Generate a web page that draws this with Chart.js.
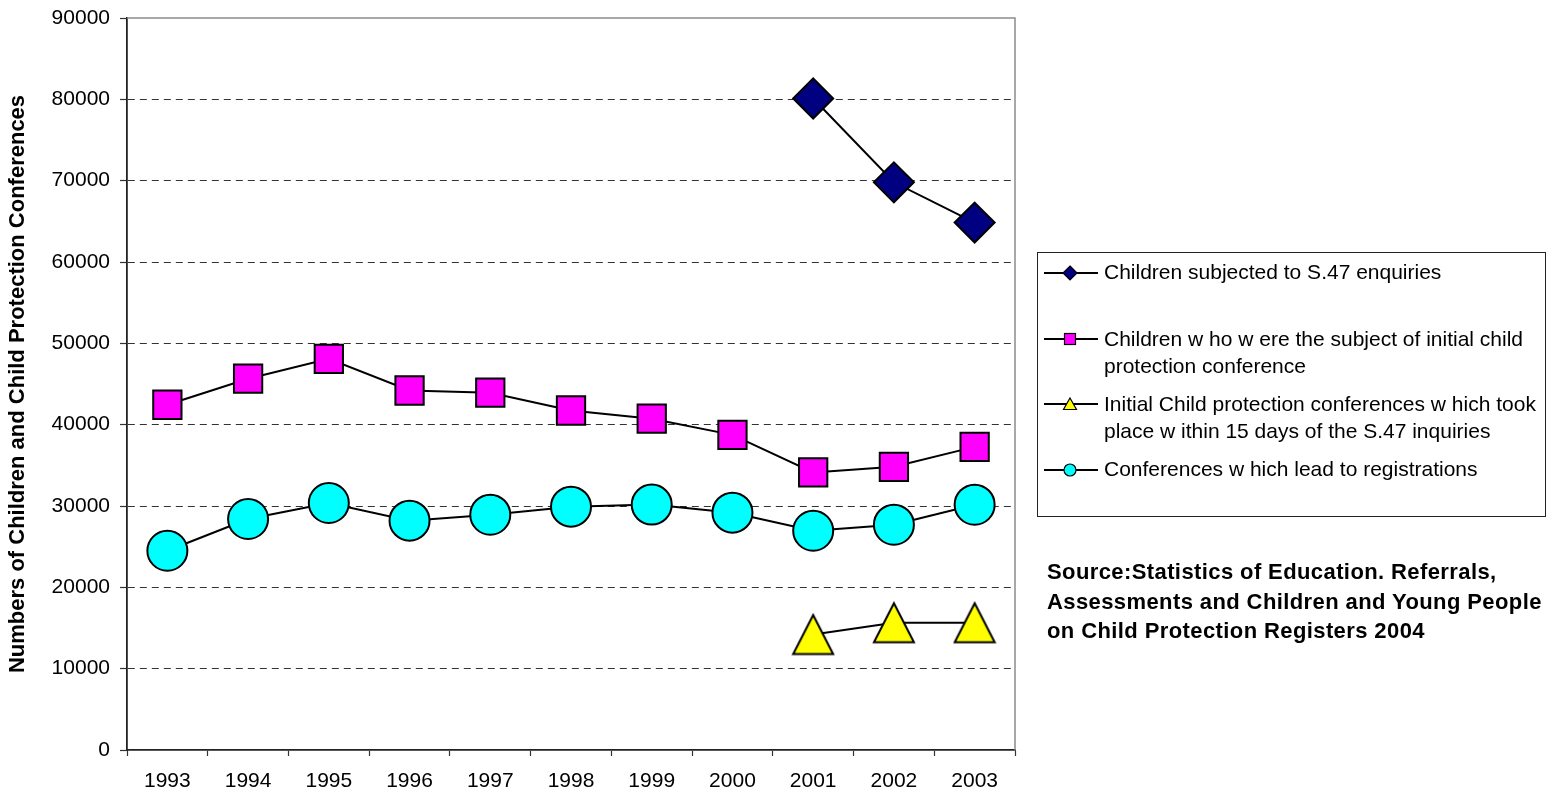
<!DOCTYPE html>
<html>
<head>
<meta charset="utf-8">
<script src="https://cdn.jsdelivr.net/npm/chart.js@4.4.1/dist/chart.umd.min.js"></script>
<style>
  html, body { margin: 0; padding: 0; background: #fff; }
  body { width: 1560px; height: 796px; position: relative; overflow: hidden; font-family: "Liberation Sans", Arial, sans-serif; }
  #wrap { position: absolute; left: 0; top: 0; width: 1560px; height: 796px; }
  #legend { position: absolute; left: 1037px; top: 252px; width: 509px; height: 265px; border: 1px solid #222; box-sizing: border-box; }
  .lt { position: absolute; left: 1104px; font-size: 21px; line-height: 27.5px; color: #000; white-space: nowrap; }
  .sym { position: absolute; left: 1044px; width: 56px; height: 20px; }
  #source { position: absolute; left: 1047px; top: 557px; font-size: 22px; font-weight: bold; line-height: 29.5px; letter-spacing: 0.4px; color: #000; white-space: nowrap; }
</style>
</head>
<body>
<div id="wrap"><canvas id="c" width="1560" height="796"></canvas></div>
<div id="legend"></div>
<svg class="sym" style="top:263px" viewBox="0 0 56 20"><line x1="0" y1="10" x2="54" y2="10" stroke="#000" stroke-width="1.8"/><polygon points="26,3 33,10 26,17 19,10" fill="#000080" stroke="#000" stroke-width="1.2"/></svg>
<div class="lt" style="top:258px">Children subjected to S.47 enquiries</div>
<svg class="sym" style="top:329px" viewBox="0 0 56 20"><line x1="0" y1="10" x2="54" y2="10" stroke="#000" stroke-width="1.8"/><rect x="20.5" y="4.5" width="11" height="11" fill="#FF00FF" stroke="#000" stroke-width="1.2"/></svg>
<div class="lt" style="top:324.5px">Children w ho w ere the subject of initial child<br>protection conference</div>
<svg class="sym" style="top:394px" viewBox="0 0 56 20"><line x1="0" y1="10" x2="54" y2="10" stroke="#000" stroke-width="1.8"/><polygon points="26,4 32.5,15.5 19.5,15.5" fill="#FFFF00" stroke="#000" stroke-width="1.2"/></svg>
<div class="lt" style="top:389.5px">Initial Child protection conferences w hich took<br>place w ithin 15 days of the S.47 inquiries</div>
<svg class="sym" style="top:460px" viewBox="0 0 56 20"><line x1="0" y1="10" x2="54" y2="10" stroke="#000" stroke-width="1.8"/><circle cx="26" cy="10" r="6" fill="#00FFFF" stroke="#000" stroke-width="1.2"/></svg>
<div class="lt" style="top:455px">Conferences w hich lead to registrations</div>
<div id="source">Source:Statistics of Education. Referrals,<br>Assessments and Children and Young People<br>on Child Protection Registers 2004</div>

<script>
const years = ['1993','1994','1995','1996','1997','1998','1999','2000','2001','2002','2003'];
const s47Enquiries = [null, null, null, null, null, null, null, null, 80100, 69800, 64850];
const initialConferenceChildren = [42450, 45650, 48100, 44200, 43930, 41740, 40730, 38750, 34130, 34820, 37270];
const within15Days = [null, null, null, null, null, null, null, null, 14200, 15650, 15650];
const registrations = [24500, 28400, 30370, 28200, 28930, 29920, 30170, 29180, 26960, 27700, 30160];
const yTicks = [0, 10000, 20000, 30000, 40000, 50000, 60000, 70000, 80000, 90000];
const seriesNames = [
  'Children subjected to S.47 enquiries',
  'Children who were the subject of initial child protection conference',
  'Initial Child protection conferences which took place within 15 days of the S.47 inquiries',
  'Conferences which lead to registrations'
];

// custom triangle marker (bounding-box centred like the reference)
const tri = document.createElement('canvas');
tri.width = 44; tri.height = 44;
(function () {
  const g = tri.getContext('2d');
  g.beginPath();
  g.moveTo(22, 2.5);
  g.lineTo(42, 41.5);
  g.lineTo(2, 41.5);
  g.closePath();
  g.fillStyle = '#FFFF00';
  g.fill();
  g.lineWidth = 2;
  g.strokeStyle = '#000';
  g.lineJoin = 'miter';
  g.stroke();
})();

const FONT = '"Liberation Sans", Arial, sans-serif';

const plotBorder = {
  id: 'plotBorder',
  beforeDatasetsDraw(chart) {
    const a = chart.chartArea, ctx = chart.ctx;
    ctx.save();
    ctx.strokeStyle = '#8c8c8c';
    ctx.lineWidth = 1.5;
    ctx.beginPath();
    ctx.moveTo(a.left, a.top);
    ctx.lineTo(a.right, a.top);
    ctx.lineTo(a.right, a.bottom);
    ctx.stroke();
    ctx.restore();
  }
};

const common = { borderColor: '#000', borderWidth: 2, pointBorderColor: '#000', pointBorderWidth: 2, spanGaps: false, tension: 0 };

new Chart(document.getElementById('c'), {
  type: 'line',
  data: {
    labels: years,
    datasets: [
      Object.assign({ label: seriesNames[0], data: s47Enquiries, pointStyle: 'rectRot', pointRadius: 20, pointBackgroundColor: '#000080' }, common),
      Object.assign({ label: seriesNames[1], data: initialConferenceChildren, pointStyle: 'rect', pointRadius: 20, pointBackgroundColor: '#FF00FF' }, common),
      Object.assign({ label: seriesNames[2], data: within15Days, pointStyle: tri, pointRadius: 22, pointBackgroundColor: '#FFFF00' }, common),
      Object.assign({ label: seriesNames[3], data: registrations, pointStyle: 'circle', pointRadius: 20, pointBackgroundColor: '#00FFFF' }, common)
    ]
  },
  options: {
    responsive: false,
    devicePixelRatio: 1,
    animation: false,
    events: [],
    layout: { autoPadding: false, padding: { left: 0, top: 18, right: 545, bottom: 0 } },
    plugins: { legend: { display: false }, tooltip: { enabled: false }, title: { display: false } },
    scales: {
      x: {
        type: 'category',
        offset: true,
        grid: { display: true, offset: true, drawOnChartArea: false, drawTicks: true, tickLength: 6, tickColor: '#333', tickWidth: 1.2 },
        border: { display: true, color: '#222', width: 1.8 },
        ticks: { color: '#000', font: { family: FONT, size: 21 }, padding: 13, maxRotation: 0, autoSkip: false },
        afterFit(scale) { scale.height = 46; }
      },
      y: {
        type: 'linear',
        min: 0,
        max: 90000,
        afterBuildTicks(scale) { scale.ticks = yTicks.map(v => ({ value: v })); },
        grid: {
          drawOnChartArea: true,
          drawTicks: true,
          tickLength: 7,
          tickColor: '#333',
          tickWidth: 1.2,
          lineWidth: 1,
          color: (ctx) => (ctx.tick && (ctx.tick.value === 0 || ctx.tick.value === 90000)) ? 'rgba(0,0,0,0)' : '#333'
        },
        border: { display: true, color: '#222', width: 1.8, dash: [7, 5] },
        ticks: { color: '#000', font: { family: FONT, size: 21 }, padding: 10, callback: (v) => String(v) },
        title: { display: true, text: 'Numbers of Children and Child Protection Conferences', color: '#000', font: { family: FONT, size: 22, weight: 'bold' }, padding: { top: 5, bottom: 0 } },
        afterFit(scale) { scale.width = 127; scale.paddingTop = 0; scale.paddingBottom = 0; }
      }
    }
  },
  plugins: [plotBorder]
});
</script>
</body>
</html>
